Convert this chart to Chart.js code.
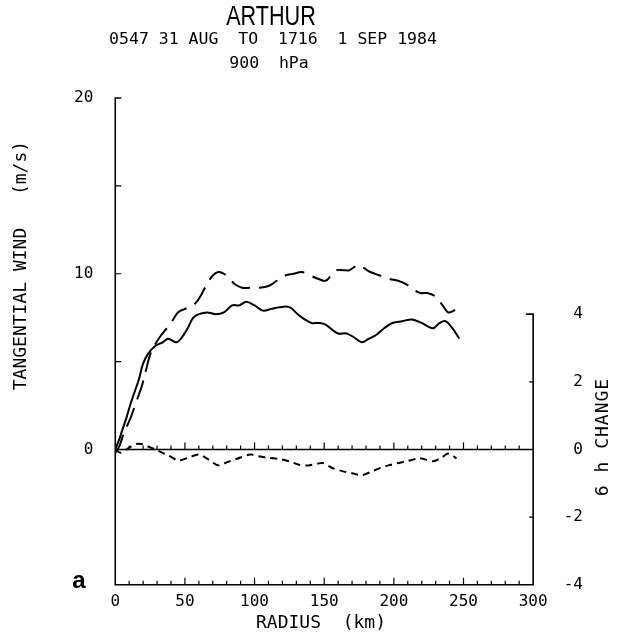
<!DOCTYPE html>
<html>
<head>
<meta charset="utf-8">
<script src="https://cdn.jsdelivr.net/npm/chart.js@4/dist/chart.umd.min.js"></script>
<style>
  html, body { margin: 0; padding: 0; background: #fff; }
  canvas { display: block; }
</style>
</head>
<body>
<canvas id="grafico" width="621" height="636"></canvas>
<script>
// Radio (km) y viento tangencial (m/s), curva continua
const radioContinua = [0, 3, 5, 8, 11, 14, 17, 20, 24, 29, 34, 38, 44, 48, 52, 56, 60, 66, 72, 78, 84, 89, 94, 100, 106, 112, 118, 125, 131, 136, 141, 147, 151, 156, 160, 166, 171, 177, 182, 187, 193, 199, 206, 213, 220, 228, 233, 237, 242, 247];
const vientoContinua = [0, 0.6, 1.1, 1.8, 2.6, 3.3, 4.0, 4.9, 5.5, 5.9, 6.1, 6.3, 6.1, 6.4, 6.9, 7.5, 7.7, 7.8, 7.7, 7.8, 8.2, 8.2, 8.4, 8.2, 7.9, 8.0, 8.1, 8.1, 7.7, 7.4, 7.2, 7.2, 7.1, 6.8, 6.6, 6.6, 6.4, 6.1, 6.3, 6.5, 6.9, 7.2, 7.3, 7.4, 7.2, 6.9, 7.2, 7.3, 6.9, 6.3];

// Curva de trazo largo
const radioTrazos = [0, 3, 6, 11, 15, 19, 22, 25, 28, 32, 36, 40, 45, 50, 56, 61, 65, 70, 74, 78, 82, 86, 91, 97, 103, 110, 116, 122, 128, 134, 140, 146, 151, 155, 159, 164, 168, 172, 175, 179, 183, 190, 197, 203, 209, 214, 219, 224, 230, 235, 239, 243, 247];
const vientoTrazos = [-0.2, 0.2, 0.9, 1.8, 2.7, 3.6, 4.5, 5.4, 5.9, 6.4, 6.8, 7.2, 7.8, 8.0, 8.2, 8.7, 9.3, 9.9, 10.1, 10.0, 9.7, 9.4, 9.2, 9.2, 9.2, 9.3, 9.6, 9.9, 10.0, 10.1, 9.9, 9.7, 9.6, 9.9, 10.2, 10.2, 10.2, 10.4, 10.5, 10.3, 10.1, 9.9, 9.7, 9.6, 9.4, 9.1, 8.9, 8.9, 8.7, 8.2, 7.8, 7.9, 8.1];

// Cambio en 6 h (eje derecho)
const radioCambio = [0, 4, 8, 12, 16, 20, 24, 29, 34, 38, 45, 52, 60, 67, 74, 80, 87, 97, 103, 110, 118, 125, 132, 139, 145, 149, 156, 163, 170, 177, 184, 190, 196, 202, 210, 218, 223, 228, 234, 239, 245];
const cambio6h = [0, -0.1, 0, 0.1, 0.17, 0.15, 0.08, 0, -0.1, -0.17, -0.32, -0.25, -0.15, -0.3, -0.47, -0.38, -0.28, -0.15, -0.2, -0.25, -0.28, -0.35, -0.45, -0.47, -0.42, -0.4, -0.55, -0.64, -0.7, -0.76, -0.65, -0.55, -0.47, -0.41, -0.34, -0.26, -0.3, -0.35, -0.25, -0.12, -0.26];

const ticksRadio = [0, 50, 100, 150, 200, 250, 300];
const ticksViento = [0, 5, 10, 15, 20];
const ticksCambio = [-4, -2, 0, 2, 4];

const MONO = "'DejaVu Sans Mono', monospace";

function puntos(xs, ys) {
    return xs.map((x, i) => ({ x: x, y: ys[i] }));
}

// Ejes, marcas y textos al estilo del trazador
const ejesPlotter = {
    id: "ejesPlotter",
    afterDatasetsDraw(chart) {
        const ctx = chart.ctx;
        const x = chart.scales.x, y = chart.scales.y, y2 = chart.scales.y2;
        const x0 = x.getPixelForValue(0), x300 = x.getPixelForValue(300);
        const yTop = y.getPixelForValue(20), yCero = y.getPixelForValue(0);
        const yBase = chart.chartArea.bottom;
        const y4 = y2.getPixelForValue(4);

        ctx.save();
        ctx.strokeStyle = "#000";
        ctx.lineWidth = 1.6;
        ctx.beginPath();
        // eje izquierdo con tapa
        ctx.moveTo(x0 + 6, yTop); ctx.lineTo(x0, yTop); ctx.lineTo(x0, yBase);
        // base
        ctx.lineTo(x300, yBase);
        // eje derecho con tapa
        ctx.lineTo(x300, y4); ctx.lineTo(x300 - 7, y4);
        // línea cero
        ctx.moveTo(x0, yCero); ctx.lineTo(x300, yCero);
        ctx.stroke();

        ctx.lineWidth = 1.2;
        ctx.beginPath();
        for (let r = 10; r < 300; r += 10) {
            const px = x.getPixelForValue(r);
            const largo = r % 50 === 0 ? 7 : 4;
            ctx.moveTo(px, yCero); ctx.lineTo(px, yCero - largo);
            ctx.moveTo(px, yBase); ctx.lineTo(px, yBase - largo);
        }
        [5, 10, 15].forEach(v => {
            const py = y.getPixelForValue(v);
            ctx.moveTo(x0, py); ctx.lineTo(x0 + 6, py);
        });
        [2, -2].forEach(v => {
            const py = y2.getPixelForValue(v);
            ctx.moveTo(x300, py); ctx.lineTo(x300 - 4, py);
        });
        ctx.stroke();

        ctx.fillStyle = "#000";
        ctx.textAlign = "center";
        ctx.textBaseline = "middle";

        ctx.save();
        ctx.translate(271, 18);
        ctx.scale(0.8, 1);
        ctx.font = "27px 'Liberation Sans', sans-serif";
        ctx.fillText("ARTHUR", 0, 0);
        ctx.restore();

        ctx.font = "16.5px " + MONO;
        ctx.fillText("0547 31 AUG  TO  1716  1 SEP 1984", 273, 40);
        ctx.fillText("900  hPa", 269, 64);

        ctx.font = "18px " + MONO;
        ctx.fillText("RADIUS  (km)", 321, 623);

        ctx.save();
        ctx.translate(21, 0);
        ctx.rotate(-Math.PI / 2);
        ctx.fillText("TANGENTIAL WIND", -309, 0);
        ctx.fillText("(m/s)", -168, 0);
        ctx.restore();

        ctx.save();
        ctx.translate(603, 437);
        ctx.rotate(-Math.PI / 2);
        ctx.letterSpacing = "1px";
        ctx.fillText("6 h CHANGE", 0, 0);
        ctx.restore();

        ctx.font = "bold 24px 'Liberation Sans', sans-serif";
        ctx.fillText("a", 79, 581);
        ctx.restore();
    }
};

function dibujarGrafico() {
    new Chart(document.getElementById("grafico"), {
        type: "line",
        data: {
            datasets: [{
                label: "continua",
                data: puntos(radioContinua, vientoContinua),
                yAxisID: "y",
                borderColor: "#000",
                borderWidth: 2,
                pointRadius: 0,
                tension: 0.35
            }, {
                label: "trazos",
                data: puntos(radioTrazos, vientoTrazos),
                yAxisID: "y",
                borderColor: "#000",
                borderWidth: 2,
                borderDash: [20, 9],
                pointRadius: 0,
                tension: 0.35
            }, {
                label: "cambio 6 h",
                data: puntos(radioCambio, cambio6h),
                yAxisID: "y2",
                borderColor: "#000",
                borderWidth: 2,
                borderDash: [7, 5],
                pointRadius: 0,
                tension: 0.3
            }]
        },
        options: {
            responsive: false,
            animation: false,
            devicePixelRatio: 1,
            layout: { padding: { left: 52, right: 38, top: 98, bottom: 18 } },
            plugins: {
                legend: { display: false },
                tooltip: { enabled: false },
                title: { display: false }
            },
            scales: {
                x: {
                    type: "linear",
                    min: 0,
                    max: 300,
                    afterBuildTicks: s => { s.ticks = ticksRadio.map(v => ({ value: v })); },
                    grid: { display: false, drawTicks: false },
                    border: { display: false },
                    ticks: { color: "#000", font: { family: MONO, size: 16 }, padding: 7, maxRotation: 0 }
                },
                y: {
                    position: "left",
                    min: -7.7,
                    max: 20,
                    afterBuildTicks: s => { s.ticks = ticksViento.map(v => ({ value: v })); },
                    grid: { display: false, drawTicks: false },
                    border: { display: false },
                    ticks: {
                        color: "#000",
                        font: { family: MONO, size: 16 },
                        padding: 22,
                        callback: v => (v % 10 === 0 ? v : "")
                    }
                },
                y2: {
                    position: "right",
                    min: -4,
                    max: 10.39,
                    afterBuildTicks: s => { s.ticks = ticksCambio.map(v => ({ value: v })); },
                    grid: { display: false, drawTicks: false },
                    border: { display: false },
                    ticks: { color: "#000", font: { family: MONO, size: 16 }, padding: 15.3, crossAlign: "far" }
                }
            }
        },
        plugins: [ejesPlotter]
    });
}

document.addEventListener("DOMContentLoaded", dibujarGrafico);
</script>
</body>
</html>
